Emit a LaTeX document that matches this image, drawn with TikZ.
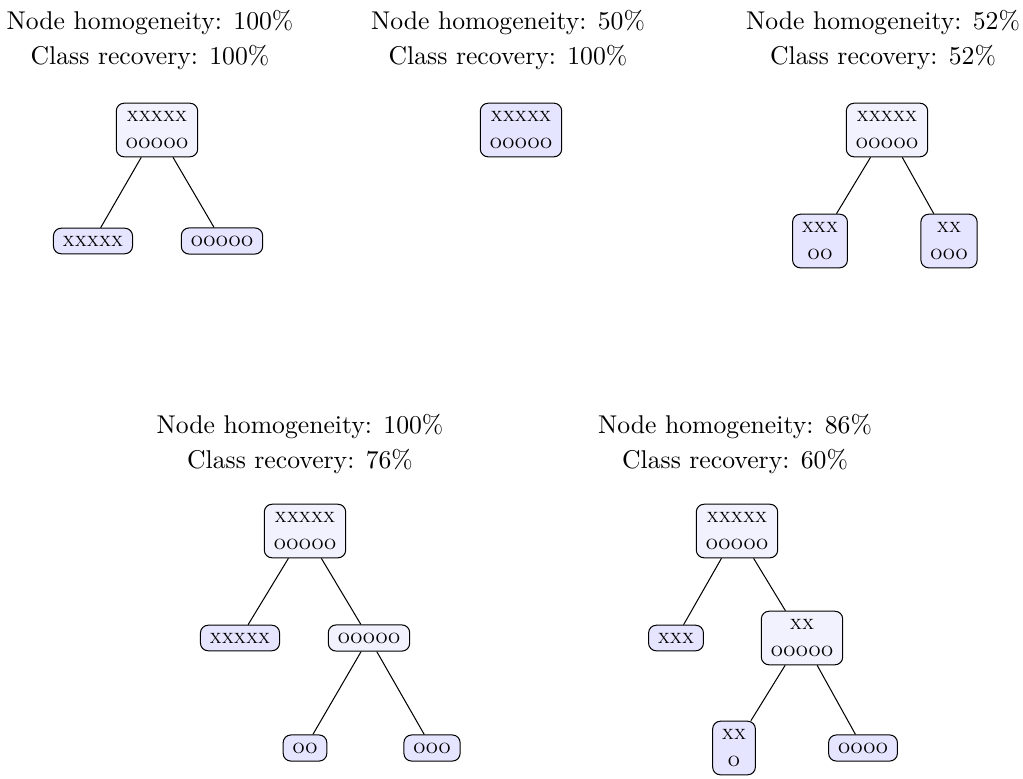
\documentclass[tikz,border=0pt]{standalone}
\begin{document}
\begin{tikzpicture}[x=0.01368cm,y=-0.01368cm,
  tnode/.style={draw, rounded corners=3pt, align=center, inner xsep=3.6pt, inner ysep=3pt,
    font=\fontsize{7.7}{10.8}\selectfont\scshape},
  inner/.style={tnode, fill=blue!5},
  leaf/.style={tnode, fill=blue!10},
  ttl/.style={align=center, font=\fontsize{10}{13.6}\selectfont}]
\useasboundingbox (0,0) rectangle (1023,778);
% panel 1
\node[ttl] (t1) at (150,40) {Node homogeneity: 100\%\\Class recovery: 100\%};
\node[inner] (a) at (157,130) {xxxxx\\ooooo};
\node[leaf] (a1) at (93,241) {xxxxx};
\node[leaf] (a2) at (222,241) {ooooo};
\draw (a) -- (a1);
\draw (a) -- (a2);
% panel 2
\node[ttl] (t2) at (508,40) {Node homogeneity: 50\%\\Class recovery: 100\%};
\node[leaf] (b) at (521,130) {xxxxx\\ooooo};
% panel 3
\node[ttl] (t3) at (883,40) {Node homogeneity: 52\%\\Class recovery: 52\%};
\node[inner] (c) at (887,130) {xxxxx\\ooooo};
\node[leaf] (c1) at (820,241) {xxx\\oo};
\node[leaf] (c2) at (949,241) {xx\\ooo};
\draw (c) -- (c1);
\draw (c) -- (c2);
% panel 4
\node[ttl] (t4) at (300,444) {Node homogeneity: 100\%\\Class recovery: 76\%};
\node[inner] (d) at (305,531) {xxxxx\\ooooo};
\node[leaf] (d1) at (240,638) {xxxxx};
\node[inner] (d2) at (369,638) {ooooo};
\node[leaf] (d21) at (305,748) {oo};
\node[leaf] (d22) at (432,748) {ooo};
\draw (d) -- (d1);
\draw (d) -- (d2);
\draw (d2) -- (d21);
\draw (d2) -- (d22);
% panel 5
\node[ttl] (t5) at (735,444) {Node homogeneity: 86\%\\Class recovery: 60\%};
\node[inner] (e) at (737,531) {xxxxx\\ooooo};
\node[leaf] (e1) at (676,638) {xxx};
\node[inner] (e2) at (802,638) {xx\\ooooo};
\node[leaf] (e21) at (734,748) {xx\\o};
\node[leaf] (e22) at (863,748) {oooo};
\draw (e) -- (e1);
\draw (e) -- (e2);
\draw (e2) -- (e21);
\draw (e2) -- (e22);
\end{tikzpicture}
\end{document}
